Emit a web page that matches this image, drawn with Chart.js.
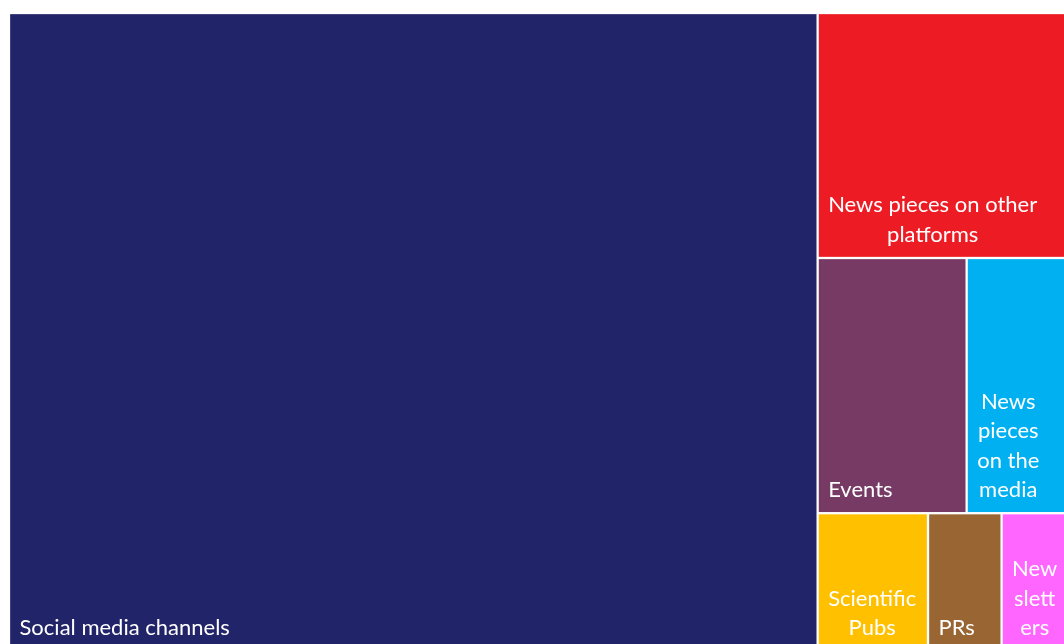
<!DOCTYPE html>
<html>
<head>
<meta charset="utf-8">
<script src="https://cdn.jsdelivr.net/npm/chart.js@4.4.0/dist/chart.umd.min.js"></script>
<style>
  html, body { margin: 0; padding: 0; background: #fff; overflow: hidden; }
  #wrap { position: absolute; left: 0; top: 0; width: 1066px; height: 651px; }
</style>
</head>
<body>
<div id="wrap"><canvas id="chart-tree"></canvas></div>
<script>
// Communication channels, sized by count
const categories = ['Social media channels', 'News pieces on other platforms', 'Events', 'News pieces on the media', 'Scientific Pubs', 'PRs', 'Newsletters'];
const values = [407, 48, 30, 20, 12, 8, 7];
const colors = ['#22246A', '#ED1C24', '#763A64', '#00B0F0', '#FFC000', '#996633', '#FF66FF'];
// wrapped label lines per cell
const labelLines = [
  ['Social media channels'],
  ['News pieces on other', 'platforms'],
  ['Events'],
  ['News', 'pieces', 'on the', 'media'],
  ['Scientific', 'Pubs'],
  ['PRs'],
  ['New', 'slett', 'ers'],
];
// first item takes a full-height column, the rest are stacked rows on the right
const rows = [[1], [2, 3], [4, 5, 6]];

const sum = (idx) => idx.reduce((a, i) => a + values[i], 0);

// cells in value space: x and y both 0..1, areas proportional to values
function layout() {
  const total = values.reduce((a, v) => a + v, 0);
  const splitX = values[0] / total;
  const cells = [{ i: 0, x0: 0, x1: splitX, y0: 0, y1: 1 }];
  const rest = total - values[0];
  let y = 0;
  rows.forEach((r) => {
    const h = sum(r) / rest;
    let x = splitX;
    r.forEach((i) => {
      const w = (1 - splitX) * values[i] / sum(r);
      cells.push({ i, x0: x, x1: x + w, y0: y, y1: y + h });
      x += w;
    });
    y += h;
  });
  return cells;
}

const treePlugin = {
  id: 'treeCells',
  afterDatasetsDraw(chart) {
    const { ctx, scales: { x, y } } = chart;
    const gap = 1.15;
    ctx.save();
    layout().forEach((c) => {
      const l = x.getPixelForValue(c.x0), r = x.getPixelForValue(c.x1);
      const t = y.getPixelForValue(c.y0), b = y.getPixelForValue(c.y1);
      ctx.fillStyle = colors[c.i];
      ctx.fillRect(l + gap, t + gap, r - l - gap * 2, b - t - gap * 2);

      // label block sits bottom-left, lines centred inside the block
      const lines = labelLines[c.i];
      ctx.font = '22px Lato';
      ctx.fillStyle = '#fff';
      ctx.textBaseline = 'alphabetic';
      ctx.textAlign = 'center';
      const bw = Math.max(...lines.map((s) => ctx.measureText(s).width));
      const cx = l + 10.5 + bw / 2;
      lines.forEach((s, k) => {
        ctx.fillText(s, cx, b - 16 - (lines.length - 1 - k) * 29.5);
      });
    });
    ctx.restore();
  },
};

new Chart(document.getElementById('chart-tree'), {
  type: 'scatter',
  data: { labels: categories, datasets: [{ data: [] }] },
  options: {
    responsive: true, maintainAspectRatio: false, animation: false,
    layout: { padding: { left: 9, top: 13, right: 0, bottom: 0 } },
    plugins: { legend: { display: false }, tooltip: { enabled: false } },
    scales: {
      x: { type: 'linear', min: 0, max: 1, display: false },
      y: { type: 'linear', min: 0, max: 1, reverse: true, display: false },
    },
  },
  plugins: [treePlugin],
});
</script>
</body>
</html>
